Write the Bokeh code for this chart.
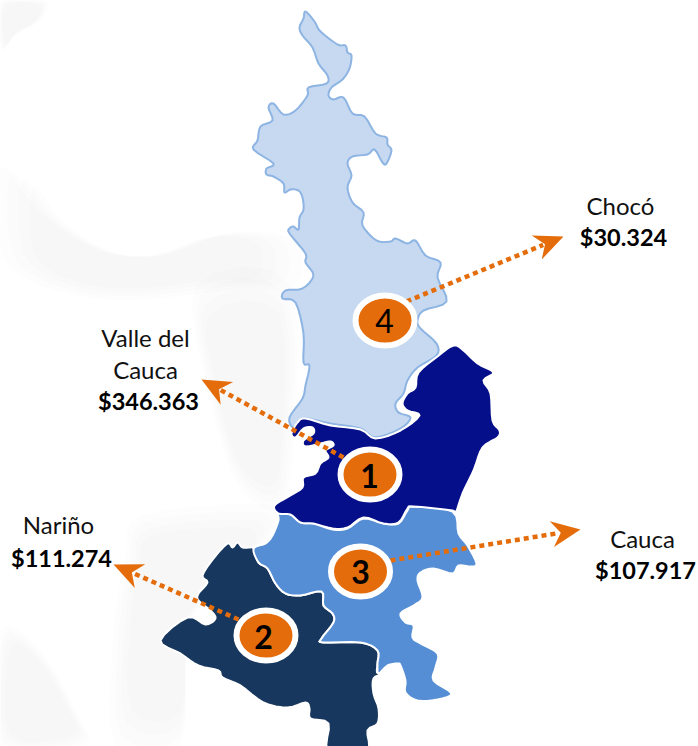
import math
from bokeh.plotting import figure
from bokeh.models import Range1d
from bokeh.core.properties import value
from bokeh.embed import file_html
from bokeh.resources import INLINE

departments = ["Valle del Cauca", "Nariño", "Cauca", "Chocó"]
amounts = ["$346.363", "$111.274", "$107.917", "$30.324"]
ranks = ["1", "2", "3", "4"]

choco_outline = [(305,11),(314,21),(320,31),(337,44),(345,45),(347,52),(351,55),(349,68),(342,79),(331,87),(328,95),(333,99),(343,97),(352,113),(364,116),(375,133),(386,137),(387,144),(391,150),(386,163),(382,162),(374,149),(367,154),(352,156),(347,163),(351,175),(347,187),(352,202),(363,212),(362,225),(376,240),(390,241),(395,238),(407,243),(415,240),(425,255),(440,262),(437,277),(446,301),(423,310),(417,320),(420,328),(436,343),(436,355),(417,367),(407,380),(403,393),(395,403),(398,412),(410,417),(400,428),(375,437),(360,428),(330,423),(303,418),(293,427),(289,417),(302,398),(305,385),(309,365),(303,362),(303,333),(295,302),(282,298),(285,290),(302,288),(313,275),(305,262),(305,253),(289,233),(289,228),(293,226),(298,229),(299,217),(303,209),(302,197),(298,190),(290,189),(284,192),(283,183),(273,176),(266,174),(266,168),(273,163),(253,149),(257,140),(260,126),(272,120),(268,107),(273,103),(283,114),(295,110),(307,95),(308,87),(326,83),(327,75),(318,63),(312,47),(302,35),(299,27),(303,18)]
valle_outline = [(453,345),(463,350),(477,363),(493,372),(483,380),(490,393),(492,420),(499,430),(497,437),(482,447),(473,470),(462,493),(455,513),(452,510),(413,506),(407,508),(398,522),(383,523),(363,517),(347,527),(332,528),(313,523),(300,522),(290,514),(278,513),(274,505),(290,495),(302,487),(303,477),(315,473),(320,463),(328,457),(325,450),(333,445),(330,441),(320,443),(305,446),(303,440),(313,433),(312,427),(303,428),(295,437),(291,433),(297,422),(305,418),(330,425),(360,429),(375,438),(400,430),(419,415),(407,410),(402,403),(407,393),(415,387),(418,372),(437,356)]
cauca_outline = [(278,513),(290,514),(300,522),(313,523),(332,529),(347,528),(363,518),(383,523),(398,523),(407,510),(413,506),(452,511),(458,533),(467,545),(476,563),(470,566),(458,565),(452,573),(433,568),(420,572),(417,580),(422,597),(413,605),(400,613),(405,622),(413,625),(412,637),(420,643),(437,653),(435,667),(433,680),(451,693),(437,699),(417,700),(405,692),(405,680),(400,665),(397,663),(387,665),(378,673),(377,663),(377,650),(360,642),(323,642),(321,638),(333,622),(332,613),(323,605),(321,591),(300,595),(285,593),(275,583),(267,568),(258,562),(253,548),(265,543),(272,535),(278,520)]
narino_outline = [(253,548),(258,562),(267,568),(275,583),(285,593),(300,595),(321,591),(323,605),(332,613),(333,622),(321,638),(323,642),(360,642),(377,650),(377,663),(378,673),(397,663),(383,673),(373,678),(373,693),(378,708),(377,723),(367,730),(366,750),(328,750),(328,723),(310,718),(309,708),(305,702),(287,707),(263,702),(240,685),(222,677),(218,670),(198,665),(180,653),(160,640),(187,617),(205,624),(215,618),(210,610),(198,600),(198,593),(207,582),(202,575),(213,558),(227,543),(232,547),(237,542),(242,547),(250,547)]

watermark_shapes = [
    [(0,0),(45,0),(40,20),(15,35),(0,50)],
    [(0,165),(40,212),(100,250),(160,255),(230,232),(295,240),(295,285),(230,290),(120,300),(40,285),(0,250)],
    [(195,285),(290,285),(290,480),(270,510),(235,480),(210,400)],
    [(125,555),(140,515),(250,503),(280,515),(250,560),(190,620),(180,746),(115,746),(112,640)],
    [(0,630),(40,650),(75,710),(85,746),(0,746)],
]

label_x = [145, 58, 642, 620]
label_lines = [["Valle del", "Cauca"], ["Nariño"], ["Cauca"], ["Chocó"]]
label_baselines = [[346, 378], [533], [547], [214]]
amount_x = [148, 61, 645, 623]
amount_baseline = [409, 566, 578, 245]
badge_x = [369.5, 265.5, 360, 384.5]
badge_y = [474, 635, 571, 320]
rank_x = [369, 263, 360, 384]
rank_baseline = [487, 648, 583, 332]
rank_styles = ["bold", "bold", "bold", "normal"]
arrow_start = [(343,457), (238,619), (390,560), (406,301)]
arrow_tip = [(201,379), (113,564), (580,529), (563,236)]

def smooth(pts, steps=4):
    xs, ys = [], []
    m = len(pts)
    for i in range(m):
        p0, p1, p2, p3 = pts[i - 1], pts[i], pts[(i + 1) % m], pts[(i + 2) % m]
        for k in range(steps):
            t = k / steps
            for out, c in ((xs, 0), (ys, 1)):
                out.append(0.5 * (2 * p1[c] + (p2[c] - p0[c]) * t
                                  + (2 * p0[c] - 5 * p1[c] + 4 * p2[c] - p3[c]) * t * t
                                  + (3 * p1[c] - p0[c] - 3 * p2[c] + p3[c]) * t * t * t))
    return xs, ys

p = figure(width=698, height=746, output_backend="svg", toolbar_location=None,
           x_range=Range1d(0, 698), y_range=Range1d(746, 0),
           min_border=0, outline_line_color=None, background_fill_color="white",
           border_fill_color="white")
p.axis.visible = False
p.grid.visible = False

for shape in watermark_shapes:
    cx = sum(q[0] for q in shape) / len(shape)
    cy = sum(q[1] for q in shape) / len(shape)
    for f in (1.0, 0.92, 0.84, 0.76):
        xs, ys = smooth([(cx + (q[0] - cx) * f, cy + (q[1] - cy) * f) for q in shape])
        p.patch(xs, ys, fill_color="#000000", fill_alpha=0.009, line_color=None)

shapes = [(choco_outline, "#c6d9f1", "#8db4e2"), (narino_outline, "#17375e", "#ffffff"),
          (cauca_outline, "#558ed5", "#ffffff"), (valle_outline, "#060f8a", "#ffffff")]
for outline, fill, line in shapes:
    xs, ys = smooth(outline)
    p.patch(xs, ys, fill_color=fill, line_color=line, line_width=2, line_join="round")

ORANGE = "#e46c0a"
for (x0, y0), (x1, y1) in zip(arrow_start, arrow_tip):
    d = math.hypot(x1 - x0, y1 - y0)
    ux, uy = (x1 - x0) / d, (y1 - y0) / d
    nx, ny = -uy, ux
    p.line([x0, x1 - 22 * ux], [y0, y1 - 22 * uy], line_color=ORANGE, line_width=4.5, line_dash="5 4")
    hx = [x1, x1 - 29 * ux + 13 * nx, x1 - 20 * ux, x1 - 29 * ux - 13 * nx]
    hy = [y1, y1 - 29 * uy + 13 * ny, y1 - 20 * uy, y1 - 29 * uy - 13 * ny]
    p.patch(hx, hy, fill_color=ORANGE, line_color=None)

p.ellipse(badge_x, badge_y, width=59, height=50, fill_color=ORANGE, line_color="white", line_width=6)

for x, b, r, s in zip(rank_x, rank_baseline, ranks, rank_styles):
    p.text([x], [b], text=[r], text_font=value("Lato"), text_font_size="32px", text_font_style=s,
           text_align="center", text_baseline="alphabetic", text_color="#000000", y_offset=-12)

for x, lines, bases in zip(label_x, label_lines, label_baselines):
    for line, b in zip(lines, bases):
        p.text([x], [b], text=[line], text_font=value("Lato"), text_font_size="24px",
               text_align="center", text_baseline="alphabetic", text_color="#111111", y_offset=-9)
for x, b, a in zip(amount_x, amount_baseline, amounts):
    p.text([x], [b], text=[a], text_font=value("Lato"), text_font_size="23.5px", text_font_style="bold",
           text_align="center", text_baseline="alphabetic", text_color="#000000", y_offset=-9)

open("out.html", "w").write(file_html(p, INLINE))
